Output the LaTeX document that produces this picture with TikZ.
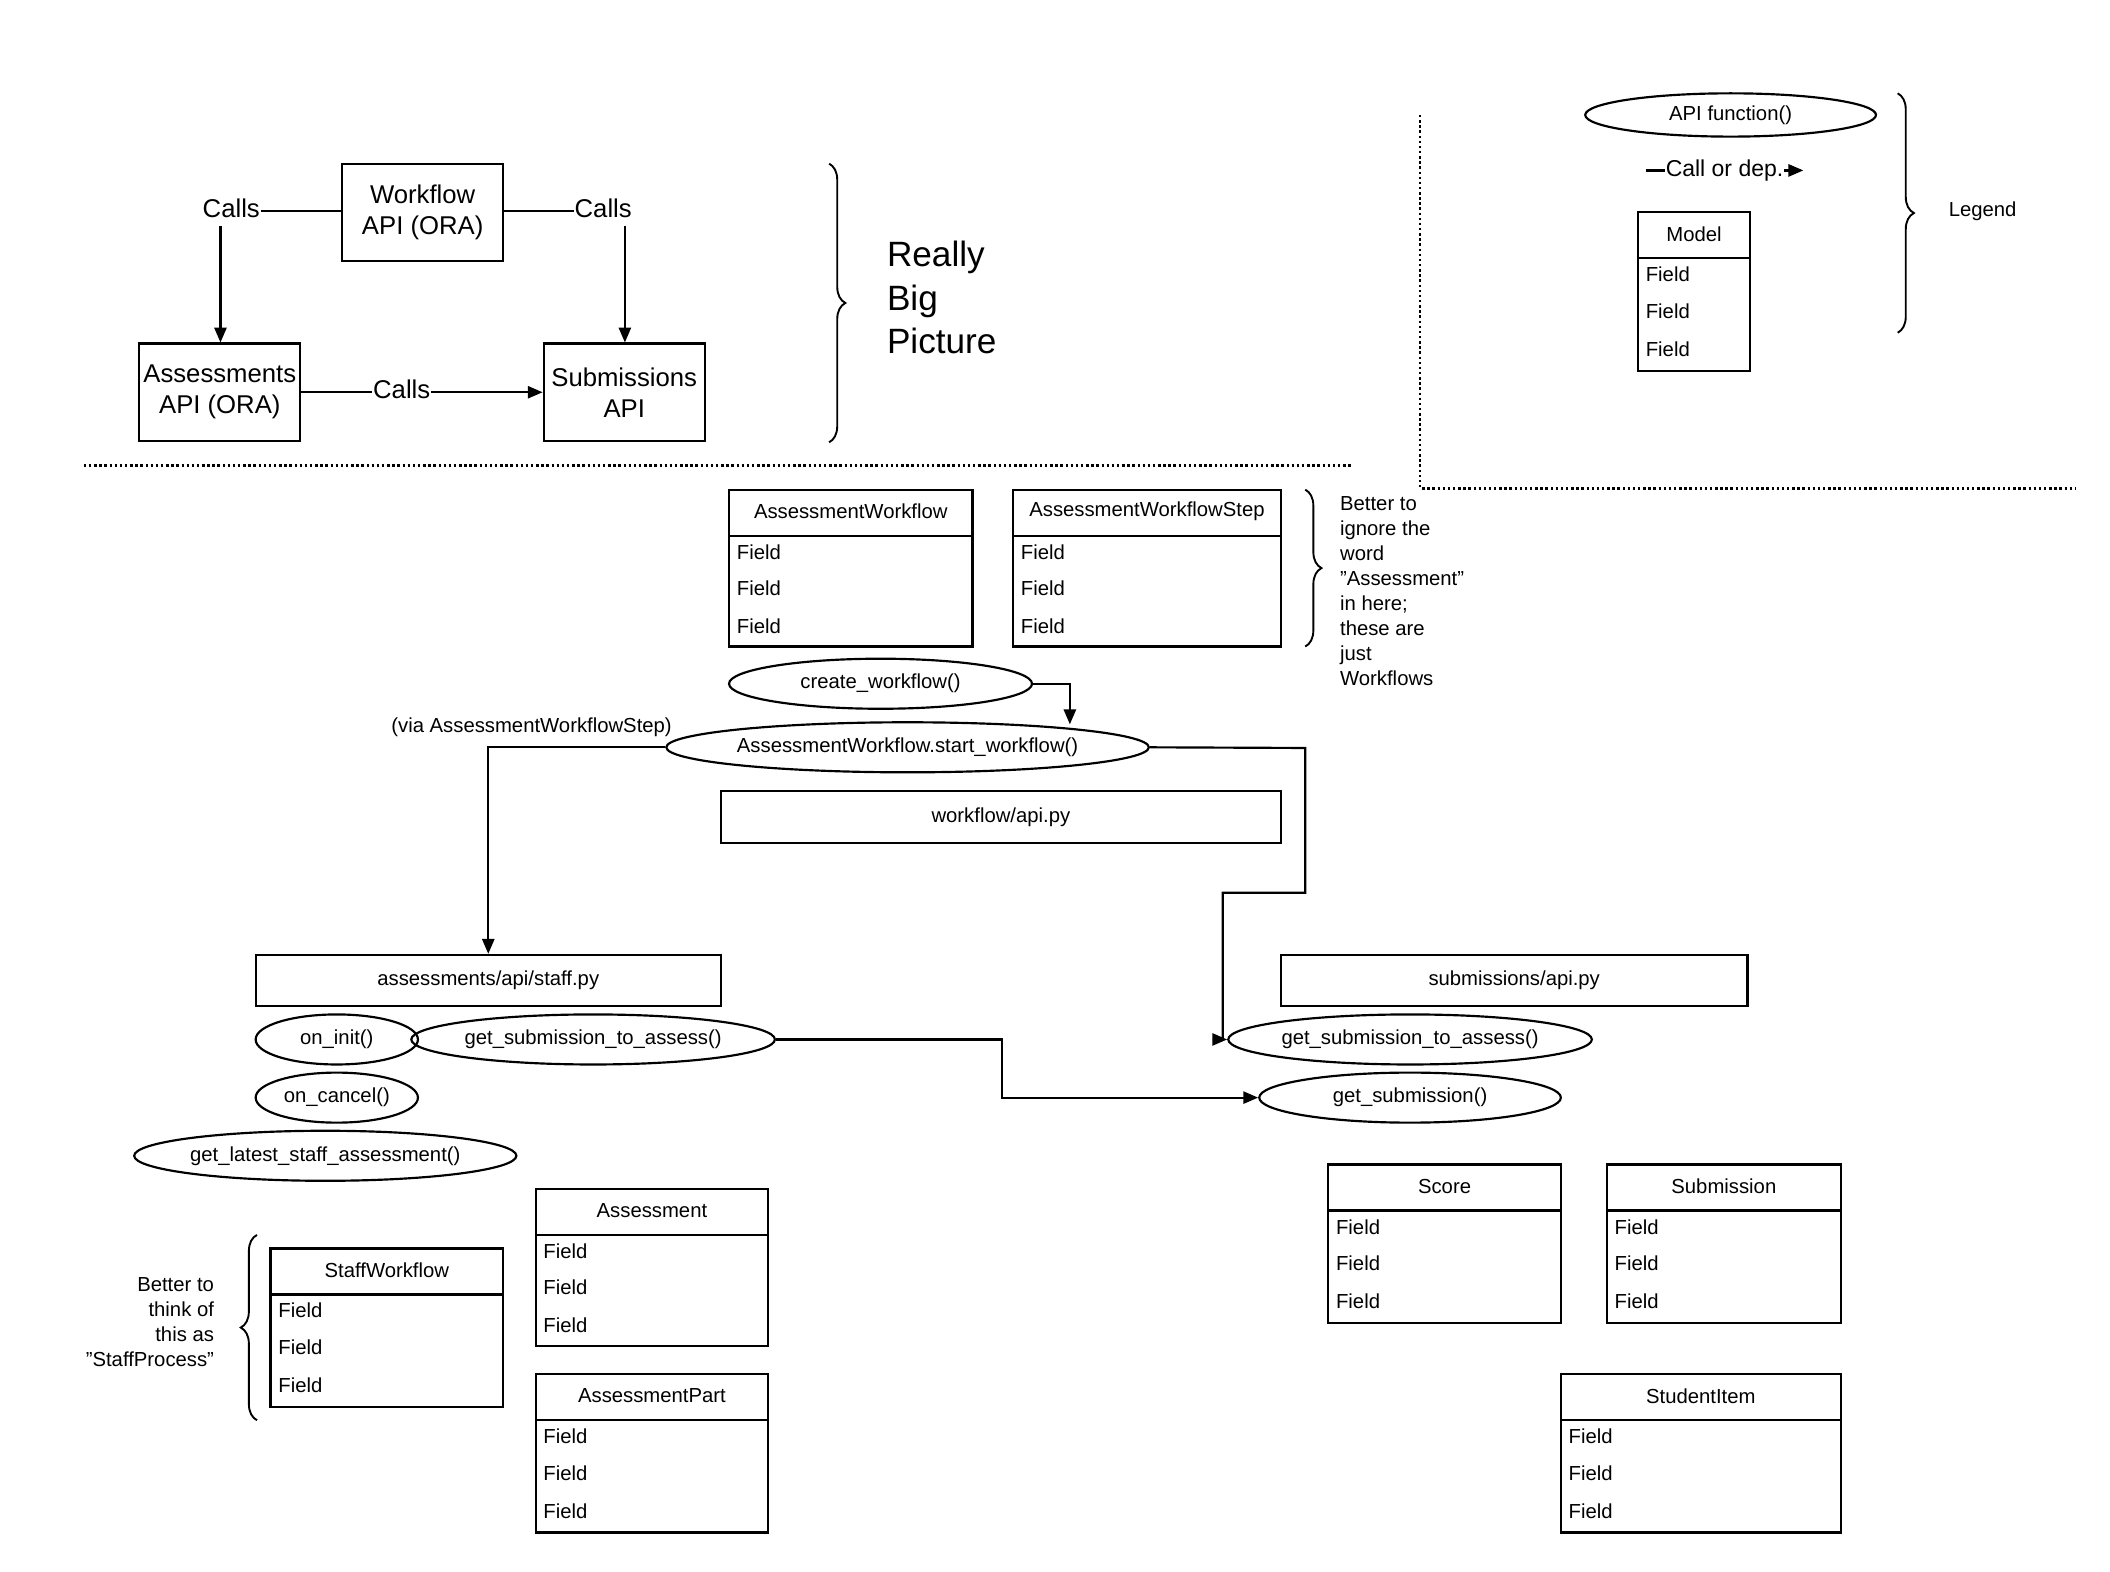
\documentclass[tikz,border=0pt]{standalone}
\usepackage{fontspec}
\setmainfont{Liberation Sans}
\usetikzlibrary{arrows.meta,shapes.geometric,decorations.pathreplacing}
\begin{document}
\begin{tikzpicture}[x=1pt,y=-1pt,line width=1.6pt,
  tx/.style={font=\fontsize{15}{18}\selectfont,inner sep=0pt},
  big/.style={font=\fontsize{19}{23}\selectfont,align=center,inner sep=0pt},
  ell/.style={draw,ellipse,inner sep=0pt,font=\fontsize{15}{18}\selectfont},
  box/.style={draw,rectangle,inner sep=0pt,font=\fontsize{15}{18}\selectfont},
  arr/.style={-{Triangle[length=11pt,width=9pt]}},
  dots/.style={dotted,line width=1.8pt},
  brc/.style={decorate,decoration={brace,amplitude=12pt}}]
\useasboundingbox (0,0) rectangle (1560,1162);
\fill[white] (0,0) rectangle (1560,1162);
\newcommand\umltbl[6]{%
  \node[box,minimum width={#4-#2},minimum height={#5-#3}] (#1) at ({(#2+#4)/2},{(#3+#5)/2}) {};
  \draw (#2,#3+34) -- (#4,#3+34);
  \node[tx] (#1t) at ({(#2+#4)/2},#3+16) {#6};
  \node[tx,anchor=west] (#1a) at (#2+5,#3+46) {Field};
  \node[tx,anchor=west] (#1b) at (#2+5,#3+73) {Field};
  \node[tx,anchor=west] (#1c) at (#2+5,#3+101) {Field};}
\newcommand\ellp[6]{\node[ell,minimum width={#4-#2},minimum height={#5-#3}] (#1) at ({(#2+#4)/2},{(#3+#5)/2}) {#6};}
\newcommand\rbox[6]{\node[box,minimum width={#4-#2},minimum height={#5-#3},align=center] (#1) at ({(#2+#4)/2},{(#3+#5)/2}) {#6};}
% top
\node[box,big,minimum width=119pt,minimum height=72pt] (wf) at (312.5,157) {Workflow\\API (ORA)};
\node[box,big,minimum width=119pt,minimum height=72pt] (as) at (162.5,290) {Assessments\\API (ORA)};
\node[box,big,minimum width=119pt,minimum height=72pt] (sb) at (461.5,290) {Submissions\\API};
\node[big] (c1) at (171,154) {Calls};
\node[big] (c2) at (446,154) {Calls};
\node[big] (c3) at (297,288) {Calls};
\draw (wf.west |- 0,156) -- (c1.east |- 0,156);
\draw[arr] (163,167) coordinate (c1b) -- (as.north -| c1b);
\draw (wf.east |- 0,156) -- (c2.west |- 0,156);
\draw[arr] (462,167) coordinate (c2b) -- (sb.north -| c2b);
\draw (as.east |- 0,290) -- (c3.west |- 0,290);
\draw[arr] (c3.east |- 0,290) -- (sb.west |- 0,290);
\draw[brc,line width=1.4pt] (613,121) coordinate (b1) -- (613,327) coordinate (b2);
\node[anchor=west,align=left,font=\fontsize{26}{32}\selectfont,inner sep=0pt] (rbp) at (655,220) {Really\\Big\\Picture};
\draw[dots] (62,344) coordinate (d1) -- (1000,344) coordinate (d2);
\draw[dots] (1050,85) coordinate (d3) -- (1050,361) coordinate (d4) -- (1535,361) coordinate (d5);
% legend
\ellp{lf}{1172}{69}{1387}{101}{API function()}
\node[font=\fontsize{17}{20}\selectfont,inner sep=0pt] (lc) at (1275,126) {Call or dep.};
\draw (lc.west) ++(-14,0) coordinate (lc1) -- (lc.west);
\draw[arr] (lc.east) -- ++(14,0) coordinate (lc2);
\umltbl{lm}{1211}{157}{1294}{274}{Model}
\draw[brc,line width=1.4pt] (1403,69) -- (1403,246);
\node[tx,anchor=west] (lg) at (1440,156) {Legend};
% workflow
\umltbl{aw}{539}{362}{719}{478}{AssessmentWorkflow}
\umltbl{aws}{749}{362}{947}{478}{AssessmentWorkflowStep}
\draw[brc,line width=1.4pt] (965,362) -- (965,478);
\node[tx,anchor=north west,align=left,font=\fontsize{15}{18.5}\selectfont] (bt) at (990,366) {Better to\\ignore the\\word\\"Assessment"\\in here;\\these are\\just\\Workflows};
\ellp{cw}{539}{487}{763}{524}{create\_workflow()}
\ellp{sw}{533}{534}{809}{571}{AssessmentWorkflow.start\_workflow()}
\node[tx] (via) at (393,538) {(via AssessmentWorkflowStep)};
\rbox{wapi}{533}{585}{947}{623}{workflow/api.py}
\rbox{sapi}{189}{706}{533}{744}{assessments/api/staff.py}
\rbox{subapi}{947}{706}{1292}{744}{submissions/api.py}
\draw[arr] (cw.east) -| (791,535.5);
\draw[arr] (sw.west) -| (sapi.north -| 361,0);
\ellp{oi}{189}{750}{309}{787}{on\_init()}
\ellp{gs}{327}{750}{550}{787}{get\_submission\_to\_assess()}
\ellp{oc}{189}{793}{309}{830}{on\_cancel()}
\ellp{gl}{121}{836}{360}{873}{get\_latest\_staff\_assessment()}
\ellp{gs2}{931}{750}{1154}{787}{get\_submission\_to\_assess()}
\ellp{gsub}{931}{793}{1154}{830}{get\_submission()}
\draw[arr] (sw.east) -- (965,553) -- (965,660) -- (904,660) -- (904,768.5) -- (gs2.west);
\draw[arr] (gs.east) -- (741,768.5) -- (741,811.5) -- (gsub.west);
\umltbl{sc}{982}{861}{1154}{978}{Score}
\umltbl{su}{1188}{861}{1361}{978}{Submission}
\umltbl{si}{1154}{1016}{1361}{1133}{StudentItem}
\umltbl{asm}{396}{879}{568}{995}{Assessment}
\umltbl{ap}{396}{1016}{568}{1133}{AssessmentPart}
\umltbl{stw}{200}{923}{372}{1040}{StaffWorkflow}
\draw[brc,line width=1.4pt] (190,1050) -- (190,913);
\node[tx,anchor=north east,align=right,font=\fontsize{15}{18.5}\selectfont] (bt2) at (159,944) {Better to\\think of\\this as\\"StaffProcess"};
\end{tikzpicture}
\end{document}
